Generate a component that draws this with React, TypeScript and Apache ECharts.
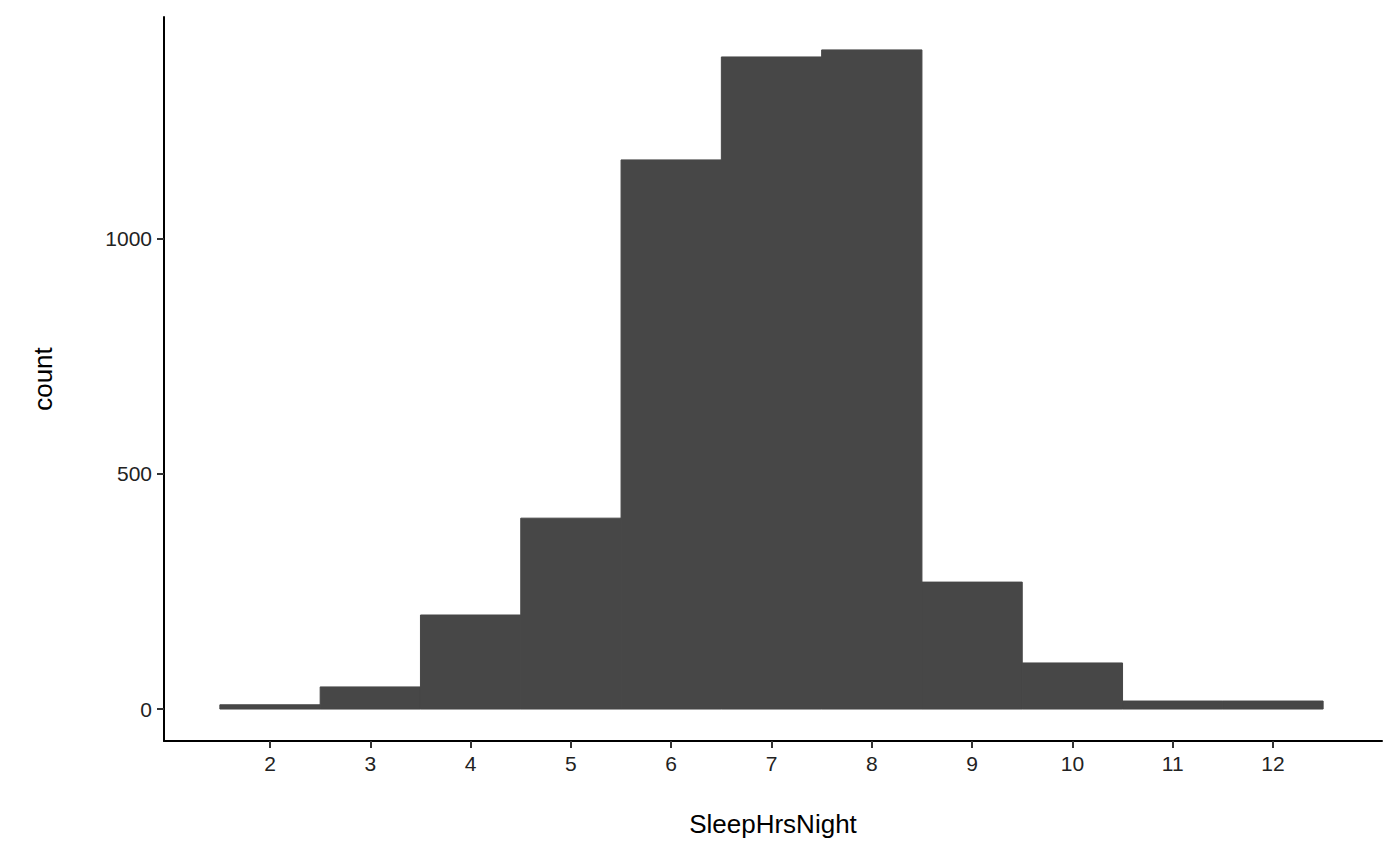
import { useEffect, useRef } from 'react';
import * as echarts from 'echarts';

const binCenters = [2, 3, 4, 5, 6, 7, 8, 9, 10, 11, 12];
const counts = [9, 47, 200, 406, 1168, 1387, 1402, 270, 98, 17, 17];
const xTicks = [2, 3, 4, 5, 6, 7, 8, 9, 10, 11, 12];
const yTicks = [0, 500, 1000];

const App = () => {
  const chartRef = useRef<HTMLDivElement>(null);

  useEffect(() => {
    document.body.style.margin = '0';
    if (!chartRef.current) return;
    const chart = echarts.init(chartRef.current, null, { renderer: 'svg' });
    const font = '"Liberation Sans", Arial, sans-serif';

    chart.setOption({
      animation: false,
      textStyle: { fontFamily: font },
      grid: { left: 164, right: 18, top: 17, bottom: 124 },
      xAxis: {
        type: 'value',
        min: 0.943,
        max: 13.087,
        name: 'SleepHrsNight',
        nameLocation: 'middle',
        nameGap: 70,
        nameTextStyle: { fontFamily: font, fontSize: 26, color: '#000' },
        splitLine: { show: false },
        axisLine: { show: true, onZero: false, lineStyle: { color: '#000', width: 2 } },
        axisTick: { show: true, length: 7, customValues: xTicks, lineStyle: { color: '#333', width: 2 } },
        axisLabel: { customValues: xTicks, fontFamily: font, fontSize: 21, color: '#222', margin: 12 },
      },
      yAxis: {
        type: 'value',
        min: -68,
        max: 1472,
        name: 'count',
        nameLocation: 'middle',
        nameGap: 108,
        nameTextStyle: { fontFamily: font, fontSize: 26, color: '#000' },
        splitLine: { show: false },
        axisLine: { show: true, onZero: false, lineStyle: { color: '#000', width: 2 } },
        axisTick: { show: true, length: 7, customValues: yTicks, lineStyle: { color: '#333', width: 2 } },
        axisLabel: {
          customValues: yTicks,
          formatter: (v: number) => String(v),
          fontFamily: font,
          fontSize: 21,
          color: '#222',
          margin: 12,
        },
      },
      series: [
        {
          type: 'custom',
          data: binCenters.map((c, i) => [c, counts[i]]),
          renderItem: (_params: any, api: any) => {
            const c = api.value(0);
            const v = api.value(1);
            const p0 = api.coord([c - 0.5, v]);
            const p1 = api.coord([c + 0.5, 0]);
            return {
              type: 'rect',
              shape: { x: p0[0], y: p0[1], width: p1[0] - p0[0], height: p1[1] - p0[1] },
              style: { fill: '#474747', stroke: '#474747', lineWidth: 1 },
            };
          },
        },
      ],
    });

    return () => chart.dispose();
  }, []);

  return <div ref={chartRef} style={{ width: 1400, height: 865 }} />;
};

export default App;
